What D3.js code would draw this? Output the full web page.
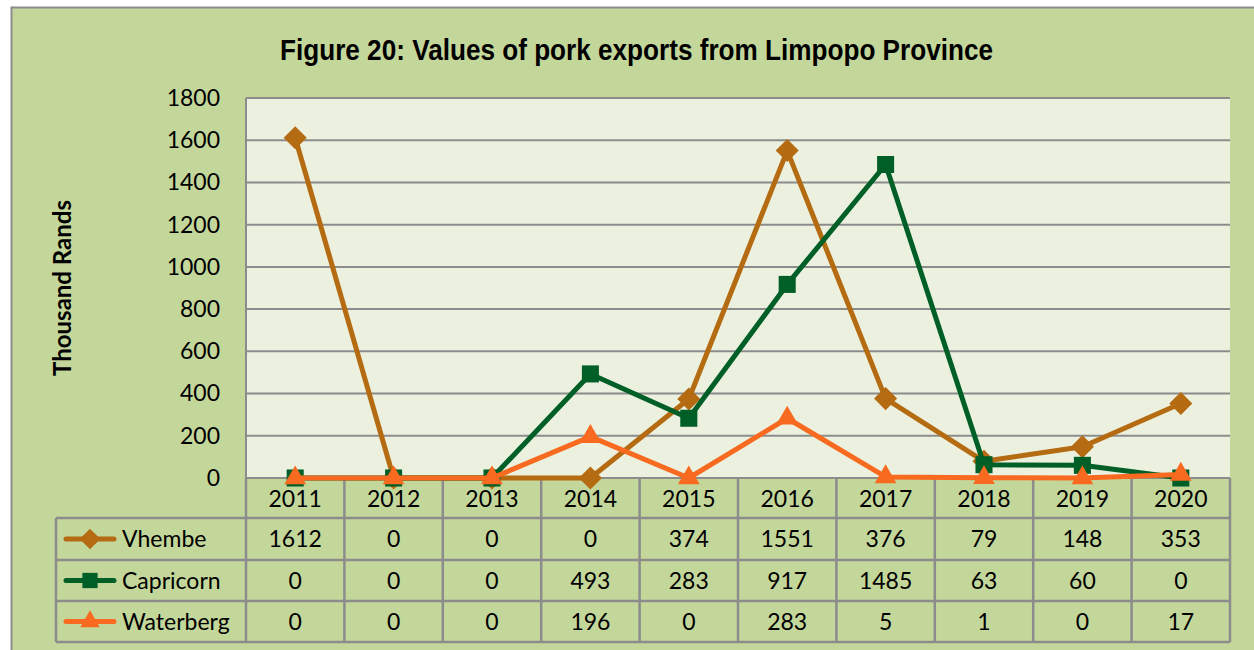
<!doctype html>
<html>
<head>
<meta charset="utf-8">
<title>Figure 20</title>
<script src="https://d3js.org/d3.v7.min.js"></script>
<style>
  body { margin:0; background:#fff; }
  text { font-family: Lato, "Open Sans", sans-serif; }
</style>
</head>
<body>
<svg id="chart" width="1254" height="650"></svg>
<script>
// data
const years = ["2011","2012","2013","2014","2015","2016","2017","2018","2019","2020"];
const vhembe    = [1612, 0, 0, 0, 374, 1551, 376, 79, 148, 353];
const capricorn = [0, 0, 0, 493, 283, 917, 1485, 63, 60, 0];
const waterberg = [0, 0, 0, 196, 0, 283, 5, 1, 0, 17];
const yTicks = [0, 200, 400, 600, 800, 1000, 1200, 1400, 1600, 1800];

const series = [
  {name:"Vhembe",    values:vhembe,    color:"#b46b12", sym:d3.symbolDiamond2, size:340},
  {name:"Capricorn", values:capricorn, color:"#005f27", sym:d3.symbolSquare2,  size:370},
  {name:"Waterberg", values:waterberg, color:"#f76a1f", sym:d3.symbolTriangle2, size:340}
];

const svg = d3.select("#chart");
const plot = {l:246, t:98, r:1230, b:478};
const rowH = [40, 42, 41, 41];
const tableLeft = 56;
const fs = "23px";

// outer chart background
svg.append("rect").attr("x",11.5).attr("y",7.5).attr("width",1260).attr("height",660)
  .attr("fill","#c4d79b").attr("stroke","#8c8c8c").attr("stroke-width",2);

svg.append("text").attr("x",280).attr("y",60)
  .attr("textLength",713).attr("lengthAdjust","spacingAndGlyphs")
  .style("font-family",'"Liberation Sans Narrow", "Arial Narrow", "Liberation Sans", sans-serif')
  .style("font-weight","bold").style("font-size","30px")
  .text("Figure 20: Values of pork exports from Limpopo Province");

const x = d3.scaleBand().domain(years).range([plot.l, plot.r]);
const y = d3.scaleLinear().domain([0,1800]).range([plot.b, plot.t]);

svg.append("rect").attr("x",plot.l).attr("y",plot.t)
  .attr("width",plot.r-plot.l).attr("height",plot.b-plot.t).attr("fill","#ebf1de");

// gridlines
svg.append("g").selectAll("line").data(yTicks).join("line")
  .attr("x1",plot.l).attr("x2",plot.r)
  .attr("y1",d=>y(d)).attr("y2",d=>y(d))
  .attr("stroke","#8c8c8c").attr("stroke-width",2);
svg.append("line").attr("x1",plot.l).attr("x2",plot.l).attr("y1",plot.t).attr("y2",plot.b)
  .attr("stroke","#8c8c8c").attr("stroke-width",2);

// y axis
const yAxis = svg.append("g").attr("transform",`translate(${plot.l},0)`)
  .call(d3.axisLeft(y).tickValues(yTicks).tickSize(0).tickPadding(26).tickFormat(d3.format("d")));
yAxis.select(".domain").remove();
yAxis.selectAll("text").style("font-size",fs).style("font-family",'Lato, "Open Sans", sans-serif').attr("fill","#000");

svg.append("text").attr("transform","translate(71,288) rotate(-90)")
  .attr("text-anchor","middle").style("font-weight","bold").style("font-size","24px")
  .text("Thousand Rands");

// data table
const rowsY = [plot.b];
rowH.forEach(h => rowsY.push(rowsY[rowsY.length-1]+h));
const tab = svg.append("g");
tab.selectAll("line.h").data(rowsY.slice(1)).join("line").attr("class","h")
  .attr("x1",tableLeft).attr("x2",plot.r).attr("y1",d=>d).attr("y2",d=>d)
  .attr("stroke","#8c8c8c").attr("stroke-width",2.5);
const vx = years.map(d=>x(d)).concat([plot.r]);
tab.selectAll("line.v").data(vx).join("line").attr("class","v")
  .attr("x1",d=>d).attr("x2",d=>d).attr("y1",plot.b).attr("y2",rowsY[4])
  .attr("stroke","#8c8c8c").attr("stroke-width",2.5);
tab.append("line").attr("x1",tableLeft).attr("x2",tableLeft).attr("y1",rowsY[1]).attr("y2",rowsY[4])
  .attr("stroke","#8c8c8c").attr("stroke-width",2.5);

// year labels
tab.selectAll("text.yr").data(years).join("text").attr("class","yr")
  .attr("x",d=>x(d)+x.bandwidth()/2).attr("y",rowsY[0]+rowH[0]/2+9)
  .attr("text-anchor","middle").style("font-size",fs).text(d=>d);

series.forEach((s,i) => {
  const cy = (rowsY[i+1]+rowsY[i+2])/2;
  tab.selectAll(null).data(s.values).join("text")
    .attr("x",(d,j)=>x(years[j])+x.bandwidth()/2).attr("y",cy+8)
    .attr("text-anchor","middle").style("font-size",fs).text(d=>d);
  // legend key
  tab.append("line").attr("x1",66).attr("x2",114).attr("y1",cy).attr("y2",cy)
    .attr("stroke",s.color).attr("stroke-width",5).attr("stroke-linecap","round");
  tab.append("path").attr("d",d3.symbol(s.sym, s.size*0.8)())
    .attr("transform",`translate(90,${cy})`).attr("fill",s.color);
  tab.append("text").attr("x",122).attr("y",cy+8).style("font-size",fs).text(s.name);
});

// lines and markers
const line = d3.line().x((d,j)=>x(years[j])+x.bandwidth()/2).y(d=>y(d));
series.forEach(s => {
  const g = svg.append("g");
  g.append("path").datum(s.values).attr("d",line).attr("fill","none")
    .attr("stroke",s.color).attr("stroke-width",5).attr("stroke-linejoin","round");
  g.selectAll("path.m").data(s.values).join("path").attr("class","m")
    .attr("d",d3.symbol(s.sym, s.size)())
    .attr("transform",(d,j)=>`translate(${x(years[j])+x.bandwidth()/2},${y(d)})`)
    .attr("fill",s.color);
});
</script>
</body>
</html>
